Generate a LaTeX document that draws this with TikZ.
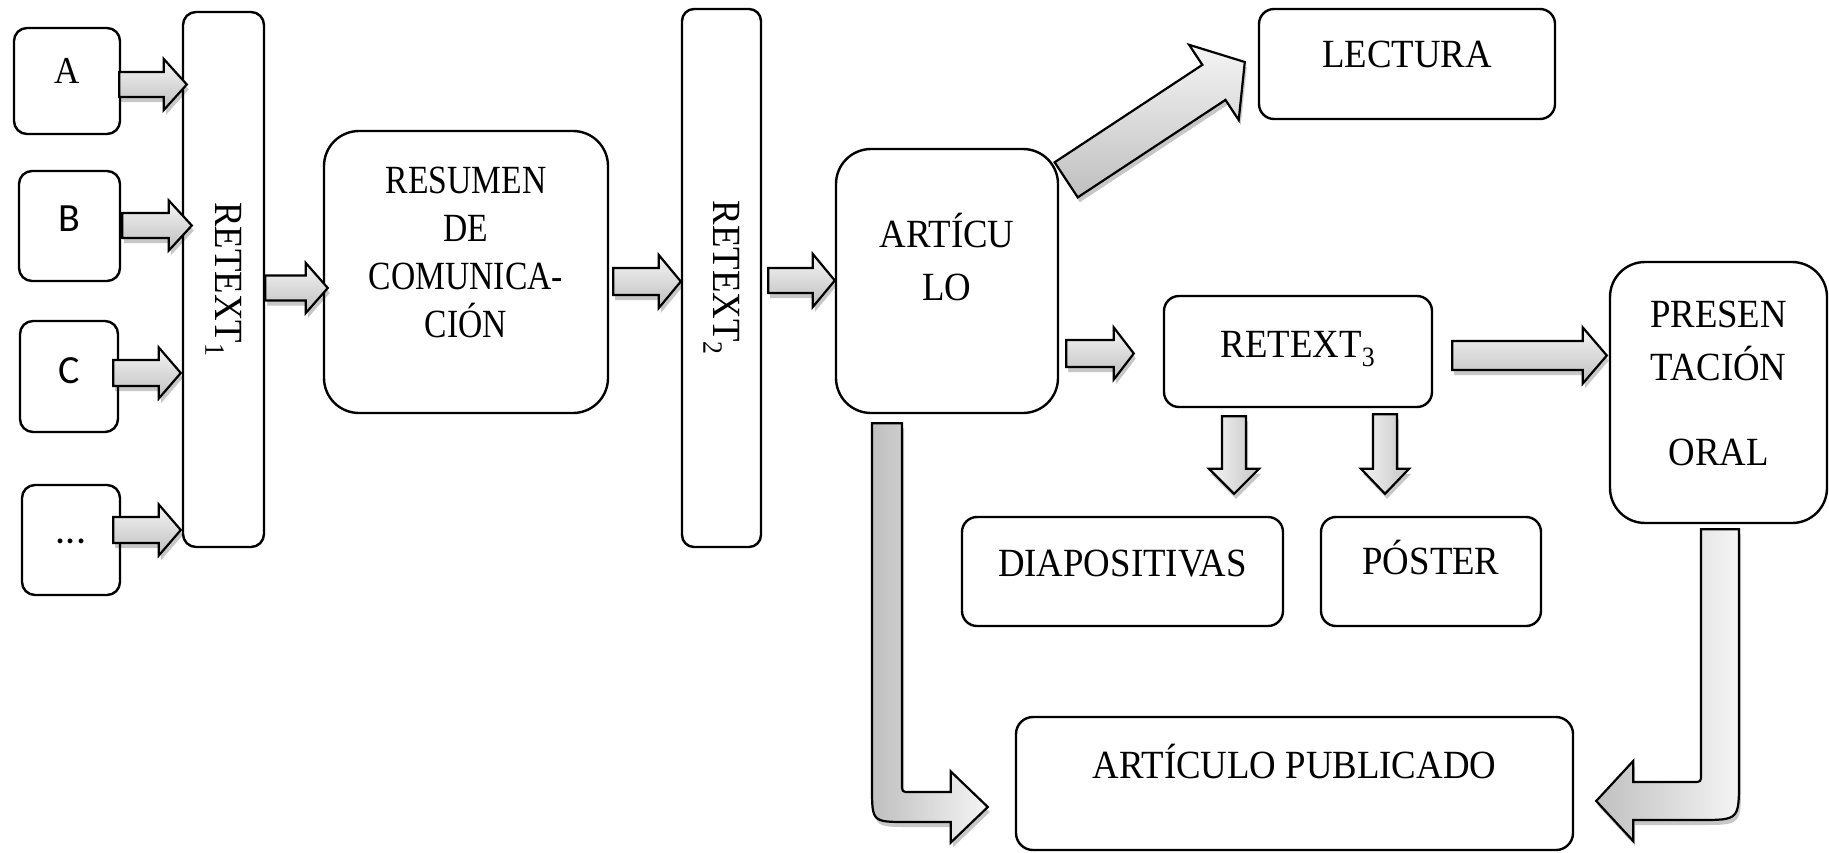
\documentclass[tikz,border=0pt]{standalone}
\usepackage{graphicx}
\usepackage{fontspec}
\setmainfont{Liberation Serif}[FakeStretch=0.92]
\newfontfamily\narrowser{Liberation Serif}[FakeStretch=0.84]
\newfontfamily\calib{Carlito}
\usetikzlibrary{calc,shadows}

\tikzset{
  box/.style={draw, line width=2.4pt, inner sep=0pt, align=center, fill=white,
    font=\fontsize{40}{48}\selectfont},
  tb/.style={box, text depth=0pt},
  barrowstyle/.style={draw=black, line width=2.2pt, line join=miter,
    top color=gray!8, bottom color=gray!50,
    drop shadow={shadow xshift=2pt, shadow yshift=-5pt, opacity=0.22, fill=black}},
  barrowv/.style={draw=black, line width=2.2pt, line join=miter,
    left color=gray!50, right color=gray!8,
    drop shadow={shadow xshift=2pt, shadow yshift=-5pt, opacity=0.22, fill=black}},
}

% #2 start, #3 tip, #4 half shaft, #5 half head, #6 head length
\newcommand\barrow[6][]{%
  \coordinate (bah) at ($(#3)!#6!(#2)$);
  \draw[barrowstyle,#1] ($(#2)!#4!90:(#3)$) -- ($(bah)!#4!90:(#3)$) -- ($(bah)!#5!90:(#3)$)
    -- (#3) -- ($(bah)!#5!-90:(#3)$) -- ($(bah)!#4!-90:(#3)$) -- ($(#2)!#4!-90:(#3)$) -- cycle;}

\begin{document}
\begin{tikzpicture}[x=1pt, y=-1pt]
\useasboundingbox (0,0) rectangle (1829,852);

% nodes
\node[tb, minimum width=106pt, minimum height=106pt, rounded corners=13pt, text height=4pt,
  font=\fontsize{38}{44}\selectfont] (A) at (67,81) {A};
\node[tb, minimum width=101pt, minimum height=110pt, rounded corners=13pt, text height=11pt,
  font=\calib\fontsize{40}{44}\selectfont] (B) at (69.5,226) {B};
\node[tb, minimum width=98pt, minimum height=111pt, rounded corners=13pt, text height=13pt,
  font=\calib\fontsize{40}{44}\selectfont] (C) at (69,376.5) {C};
\node[tb, minimum width=98pt, minimum height=110pt, rounded corners=13pt, text height=6pt,
  font=\calib\fontsize{40}{44}\selectfont] (D) at (71,540) {...};

\node[box, minimum width=81pt, minimum height=535pt, rounded corners=13pt] (R1) at (223.5,279.5)
  {\rotatebox{-90}{RETEXT\textsubscript{1}}};
\node[tb, minimum width=284pt, minimum height=282pt, rounded corners=35pt, text height=130pt,
  font=\narrowser\fontsize{40}{47.7}\selectfont] (RES) at (466,272)
  {RESUMEN\\DE\\COMUNICA-\\CIÓN};
\node[box, minimum width=79pt, minimum height=538pt, rounded corners=12pt] (R2) at (721.5,278)
  {\rotatebox{-90}{RETEXT\textsubscript{2}}};
\node[tb, minimum width=222pt, minimum height=264pt, rounded corners=35pt, text height=38pt,
  font=\fontsize{40}{53}\selectfont] (ART) at (947,281) {ARTÍCU\\LO};
\node[tb, minimum width=296pt, minimum height=110pt, rounded corners=15pt, text height=6pt]
  (LEC) at (1407,64) {LECTURA};
\node[tb, minimum width=268pt, minimum height=111pt, rounded corners=15pt, text height=11pt]
  (R3) at (1298,351.5) {RETEXT\textsubscript{3}};
\node[tb, minimum width=217pt, minimum height=261pt, rounded corners=35pt, text height=145pt,
  font=\fontsize{40}{53}\selectfont] (PRES) at (1718.5,392.5) {PRESEN\\TACIÓN\\[32pt]ORAL};
\node[tb, minimum width=321pt, minimum height=109pt, rounded corners=15pt, text height=10pt]
  (DIA) at (1122.5,571.5) {DIAPOSITIVAS};
\node[tb, minimum width=220pt, minimum height=109pt, rounded corners=15pt, text height=6pt]
  (POS) at (1431,571.5) {PÓSTER};
\node[tb, minimum width=557pt, minimum height=133pt, rounded corners=17pt, text height=0pt,
  text depth=11pt] (PUB) at (1294.5,783.5) {ARTÍCULO PUBLICADO};

% straight block arrows
\coordinate (s1) at ($(A.east)+(-2,3.5)$);
\coordinate (e1) at ($(A.east -| R1.west)+(5,3.5)$);
\barrow{s1}{e1}{12.5pt}{25.5pt}{23pt}

\coordinate (s2) at ($(B.east)+(1,-0.5)$);
\coordinate (e2) at ($(B.east -| R1.west)+(10,-0.5)$);
\barrow{s2}{e2}{12.5pt}{25pt}{23pt}

\coordinate (s3) at ($(C.east)+(-6,-3.5)$);
\coordinate (e3) at ($(C.east -| R1.west)+(-1,-3.5)$);
\barrow{s3}{e3}{13pt}{25.5pt}{22pt}

\coordinate (s4) at ($(D.east)+(-8,-10)$);
\coordinate (e4) at ($(D.east -| R1.west)+(-1,-10)$);
\barrow{s4}{e4}{13pt}{25.5pt}{22pt}

\coordinate (s5) at ($(R1.east)+(0,8.5)$);
\coordinate (e5) at ($(R1.east -| RES.west)+(5,8.5)$);
\barrow{s5}{e5}{12.5pt}{25pt}{22pt}

\coordinate (s6) at ($(RES.east)+(4,9.5)$);
\coordinate (e6) at ($(RES.east -| R2.west)+(0,9.5)$);
\barrow{s6}{e6}{13.5pt}{26.5pt}{22pt}

\coordinate (s7) at ($(R2.east)+(6,2.5)$);
\coordinate (e7) at ($(R2.east -| ART.west)+(0,2.5)$);
\barrow{s7}{e7}{12.5pt}{26.5pt}{22pt}

\coordinate (s8) at ($(ART.east |- R3.west)+(7,2)$);
\coordinate (e8) at ($(R3.west)+(-29,2)$);
\barrow{s8}{e8}{13.5pt}{26pt}{20pt}

\coordinate (s9) at ($(R3.east)+(19,4)$);
\coordinate (e9) at ($(R3.east -| PRES.west)+(-2,4)$);
\barrow{s9}{e9}{14.5pt}{28pt}{24pt}

\coordinate (s10) at ($(R3.south)+(-64,8)$);
\coordinate (e10) at ($(s10 |- DIA.north)+(0,-22)$);
\barrow[left color=gray!8, right color=gray!45]{s10}{e10}{12pt}{25pt}{25pt}

\coordinate (s11) at ($(R3.south)+(87,6)$);
\coordinate (e11) at ($(s11 |- POS.north)+(0,-22)$);
\barrow[left color=gray!8, right color=gray!45]{s11}{e11}{12pt}{24pt}{25pt}

\coordinate (s12) at ($(ART.north east)+(7,32)$);
\coordinate (e12) at ($(LEC.west)+(-13,-2)$);
\barrow{s12}{e12}{21pt}{45pt}{37pt}

% bent block arrows
\coordinate (c1) at ($(ART.south)+(-60,9)$);
\coordinate (t1) at ($(PUB.west)+(-27,23.5)$);
\draw[barrowv] let \p1=(c1), \p2=(t1) in
  (\x1-15pt,\y1) -- (\x1-15pt,\y2-15pt+35pt)
  .. controls (\x1-15pt,\y2-15pt) .. (\x1-15pt+35pt,\y2-15pt)
  -- (\x2-37pt,\y2-15pt) -- (\x2-37pt,\y2-35.5pt) -- (\x2,\y2)
  -- (\x2-37pt,\y2+35.5pt) -- (\x2-37pt,\y2+15pt) -- (\x1+15pt+8pt,\y2+15pt)
  .. controls (\x1+15pt,\y2+15pt) .. (\x1+15pt,\y2+15pt+8pt)
  -- (\x1+15pt,\y1) -- cycle;

\coordinate (c2) at ($(PRES.south)+(1.5,5)$);
\coordinate (t2) at ($(PUB.east)+(22,17.5)$);
\draw[barrowv] let \p1=(c2), \p2=(t2) in
  (\x1+19pt,\y1) -- (\x1+19pt,\y2-19pt+40pt)
  .. controls (\x1+19pt,\y2-19pt) .. (\x1+19pt-40pt,\y2-19pt)
  -- (\x2+37pt,\y2-19pt) -- (\x2+37pt,\y2-40pt) -- (\x2,\y2)
  -- (\x2+37pt,\y2+40pt) -- (\x2+37pt,\y2+19pt) -- (\x1-19pt-8pt,\y2+19pt)
  .. controls (\x1-19pt,\y2+19pt) .. (\x1-19pt,\y2+19pt+8pt)
  -- (\x1-19pt,\y1) -- cycle;

\end{tikzpicture}
\end{document}
